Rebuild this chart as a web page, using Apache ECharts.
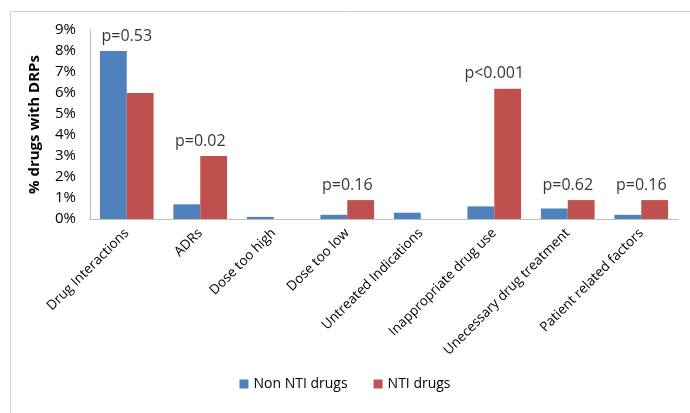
<!DOCTYPE html>
<html>
<head>
<meta charset="utf-8">
<script src="https://cdn.jsdelivr.net/npm/echarts@6/dist/echarts.min.js"></script>
<style>html,body{margin:0;padding:0;background:#fff}#c{width:690px;height:413px}</style>
</head>
<body>
<div id="c"></div>
<script>
var categories = ["Drug Interactions", "ADRs", "Dose too high", "Dose too low", "Untreated Indications", "Inappropriate drug use", "Unecessary drug treatment", "Patient related factors"];
var nonNti = [8.0, 0.7, 0.1, 0.2, 0.3, 0.6, 0.5, 0.2];
var nti = [6.0, 3.0, 0, 0.9, 0, 6.2, 0.9, 0.9];
var pValues = ["p=0.53", "p=0.02", null, "p=0.16", null, "p<0.001", "p=0.62", "p=0.16"];
var yTicks = [0, 1, 2, 3, 4, 5, 6, 7, 8, 9];

var FONT = "'Open Sans', 'Noto Sans', sans-serif";
var chart = echarts.init(document.getElementById('c'));
var labelData = categories.map(function (c, i) {
  return pValues[i] ? { value: Math.max(nonNti[i], nti[i]), p: pValues[i] } : null;
});
chart.setOption({
  animation: false,
  graphic: [{ type: 'rect', shape: { x: 10.5, y: 11.5, width: 700, height: 420 }, style: { fill: 'none', stroke: '#d0d0d0', lineWidth: 1 } }],
  grid: { left: 90, right: 12, top: 30, bottom: 194 },
  legend: {
    bottom: 17, left: 'center', itemWidth: 9, itemHeight: 9, itemGap: 26,
    icon: 'rect',
    textStyle: { fontFamily: FONT, fontSize: 14, color: '#000' },
    data: ['Non NTI drugs', 'NTI drugs']
  },
  xAxis: {
    type: 'category', data: categories,
    axisLine: { lineStyle: { color: '#bfbfbf' } },
    axisTick: { show: false },
    axisLabel: { rotate: 45, interval: 0, margin: 12, fontFamily: FONT, fontSize: 13.5, color: '#000' }
  },
  yAxis: {
    type: 'value', min: 0, max: 9, interval: 1,
    name: '% drugs with DRPs', nameLocation: 'middle', nameGap: 48,
    nameTextStyle: { fontFamily: FONT, fontSize: 15, fontWeight: 'bold', color: '#000' },
    axisLine: { show: true, lineStyle: { color: '#bfbfbf' } },
    axisTick: { show: false },
    splitLine: { show: false },
    axisLabel: { fontFamily: FONT, fontSize: 15, color: '#000', margin: 14, formatter: function (v) { return yTicks.indexOf(v) >= 0 ? v + '%' : ''; } }
  },
  series: [
    { name: 'Non NTI drugs', type: 'bar', data: nonNti, barGap: '0%', barCategoryGap: '27%', itemStyle: { color: '#4f81bd' } },
    { name: 'NTI drugs', type: 'bar', data: nti, itemStyle: { color: '#c0504d' } },
    { name: 'p', type: 'scatter', symbolSize: 0, data: labelData, silent: true,
      label: { show: true, position: 'top', distance: 7, fontFamily: FONT, fontSize: 16, color: '#000',
        formatter: function (p) { return p.data ? p.data.p : ''; } } }
  ]
});
</script>
</body>
</html>
